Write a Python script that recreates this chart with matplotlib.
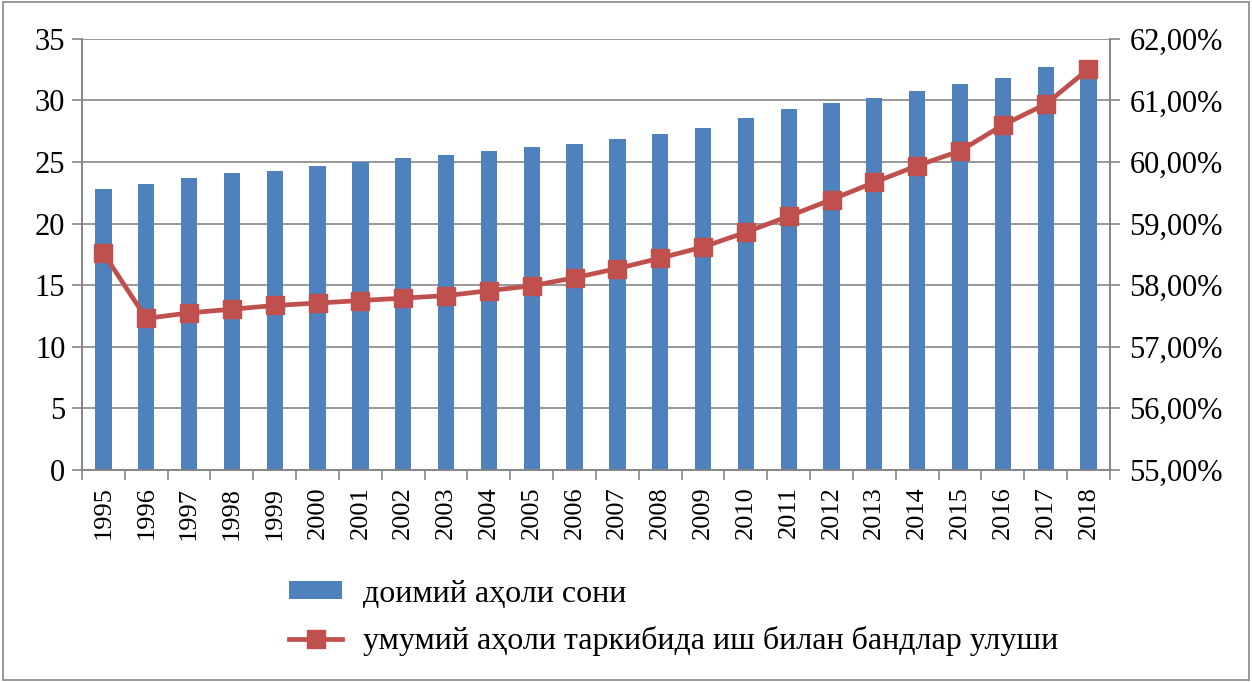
import numpy as np
import matplotlib
matplotlib.use('Agg')
import matplotlib.pyplot as plt
from matplotlib.ticker import FuncFormatter, FixedLocator

years = [str(y) for y in range(1995, 2019)]
population = [22.8, 23.2, 23.7, 24.1, 24.3, 24.7, 25.0, 25.3, 25.6, 25.9, 26.2, 26.5,
              26.9, 27.3, 27.8, 28.6, 29.3, 29.8, 30.2, 30.8, 31.3, 31.8, 32.7, 33.3]
employed_share = [58.52, 57.46, 57.55, 57.61, 57.67, 57.71, 57.75, 57.79, 57.83, 57.91, 57.99, 58.12,
                  58.27, 58.44, 58.62, 58.86, 59.12, 59.39, 59.67, 59.94, 60.18, 60.60, 60.94, 61.51]
bar_label = 'доимий аҳоли сони'
line_label = 'умумий аҳоли таркибида иш билан бандлар улуши'

plt.rcParams['font.family'] = ['Liberation Serif', 'DejaVu Serif']
fs_x = 19
fs_y = 22
fs_leg = 23
grey = '#868686'

fig = plt.figure(figsize=(12.52, 6.82), dpi=100)
ax = fig.add_axes([0.0655, 0.311, 0.821, 0.632])
ax2 = ax.twinx()

x = np.arange(len(years))
bars = ax.bar(x, population, width=0.38, color='#4F81BD', zorder=2, label=bar_label)
line, = ax2.plot(x, employed_share, color='#C0504D', lw=3.4, marker='s', markersize=13,
                 zorder=3, label=line_label)

ax.set_xlim(-0.5, len(years) - 0.5)
ax.set_ylim(0, 35)
ax.set_yticks(range(0, 36, 5))
ax2.set_ylim(55, 62)
ax2.set_yticks(range(55, 63))
ax2.yaxis.set_major_formatter(FuncFormatter(lambda v, p: f'{v:.2f}%'.replace('.', ',')))

ax.set_xticks(x)
ax.set_xticklabels(years, rotation=90)
ax.xaxis.set_minor_locator(FixedLocator(np.arange(-0.5, len(years), 1)))
ax.tick_params(axis='x', which='major', length=0, pad=12, labelsize=fs_x)
ax.tick_params(axis='x', which='minor', length=7, width=1.2, color=grey, direction='out')
ax.tick_params(axis='y', length=7, width=1.2, color=grey, labelsize=fs_y, pad=5)
ax2.tick_params(axis='y', length=7, width=1.2, color=grey, labelsize=fs_y, pad=7)

ax.grid(axis='y', color=grey, lw=1.2, zorder=0)
ax.set_axisbelow(True)
for a in (ax, ax2):
    a.spines['top'].set_visible(False)
    for s in ('left', 'right', 'bottom'):
        a.spines[s].set_color(grey)
        a.spines[s].set_linewidth(1.2)
ax2.set_zorder(ax.get_zorder() + 1)
ax2.patch.set_visible(False)

fig.legend([bars, line], [bar_label, line_label], loc='upper left',
           bbox_to_anchor=(0.231, 0.15), bbox_transform=fig.transFigure,
           frameon=False, fontsize=fs_leg, handlelength=1.65, handleheight=0.5,
           labelspacing=0.55, handletextpad=0.65, borderpad=0, borderaxespad=0)

# outer chart border
fig.patches.append(plt.Rectangle((0.002, 0.003), 0.996, 0.994, transform=fig.transFigure,
                                 fill=False, edgecolor=grey, lw=1.2))

fig.savefig('out.png', dpi=100)
